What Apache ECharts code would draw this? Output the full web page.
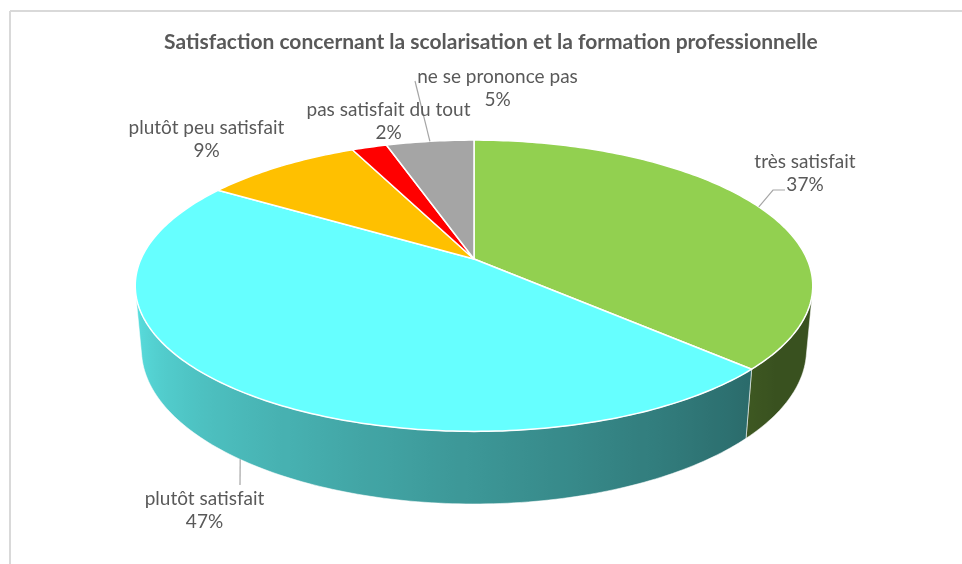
<!DOCTYPE html>
<html>
<head>
<meta charset="utf-8">
<script src="https://cdn.jsdelivr.net/npm/echarts@6/dist/echarts.min.js"></script>
<style>
  html, body { margin: 0; padding: 0; background: #ffffff; }
  #chart { width: 962px; height: 564px; }
</style>
</head>
<body>
<div id="chart"></div>
<script>
// Survey answers, clockwise from twelve o'clock
const categories = ['très satisfait', 'plutôt satisfait', 'plutôt peu satisfait', 'pas satisfait du tout', 'ne se prononce pas'];
const shares = [37, 47, 9, 2, 5];
const sliceColors = ['#92D050', '#66FFFF', '#FFC000', '#FF0000', '#A5A5A5'];
const chartTitle = 'Satisfaction concernant la scolarisation et la formation professionnelle';

// Camera used to project the tilted disc (unit radius) onto the screen
const view = {
  cx: 474, cy: 259, scale: 333,
  tilt: 25 * Math.PI / 180,
  dist: 4.934,
  thickness: 0.211
};
const sinT = Math.sin(view.tilt), cosT = Math.cos(view.tilt);

function project(theta, r, z) {
  const X = r * Math.sin(theta), Y = r * Math.cos(theta);
  const up = Y * sinT + z * cosT;
  const dep = Y * cosT - z * sinT;
  const f = view.dist / (view.dist + dep);
  return [view.cx + view.scale * X * f, view.cy - view.scale * up * f];
}

// The outer wall faces the camera where cos(theta) < -1/(dist*cos(tilt))
const wallLimit = Math.acos(-1 / (view.dist * cosT));
const wallFrom = wallLimit, wallTo = 2 * Math.PI - wallLimit;

// Side shading: darker on the right, brighter towards the left
function shade(theta) {
  const deg = theta * 180 / Math.PI;
  const t = Math.max(0, Math.min(1, (deg - 125) / (257 - 125)));
  return 0.39 + 0.48 * t;
}
function scaleColor(hex, k) {
  const n = parseInt(hex.slice(1), 16);
  const r = Math.round(((n >> 16) & 255) * k), g = Math.round(((n >> 8) & 255) * k), b = Math.round((n & 255) * k);
  return 'rgb(' + r + ',' + g + ',' + b + ')';
}

// Where each label block sits and how its leader line runs
const labelPlacement = [
  { x: 805, y: 173.5, edge: 'top', leader: [[773, 190], [785, 190]] },
  { x: 204.5, y: 510, edge: 'base', leader: [[240, 485]] },
  { x: 206.5, y: 139, edge: null, leader: null },
  { x: 388.5, y: 121.5, edge: null, leader: null },
  { x: 497.5, y: 88, edge: 'top', leader: [[415, 81]] }
];

const total = shares.reduce((a, b) => a + b, 0);

function renderSlice(params, api) {
  const idx = params.dataIndex;
  let before = 0;
  for (let i = 0; i < idx; i++) before += shares[i];
  const value = api.value(0);
  const a0 = before / total * 2 * Math.PI;
  const a1 = (before + value) / total * 2 * Math.PI;
  const children = [];
  const color = sliceColors[idx];

  // top face
  const steps = Math.max(2, Math.ceil((a1 - a0) / (Math.PI / 180)));
  const topPts = [[view.cx, view.cy]];
  for (let s = 0; s <= steps; s++) topPts.push(project(a0 + (a1 - a0) * s / steps, 1, 0));
  children.push({
    type: 'polygon', z2: 10,
    shape: { points: topPts },
    style: { fill: color, stroke: '#ffffff', lineWidth: 1.5, lineJoin: 'round' }
  });

  // visible part of the outer wall
  const w0 = Math.max(a0, wallFrom), w1 = Math.min(a1, wallTo);
  if (w1 > w0) {
    const n = Math.max(2, Math.ceil((w1 - w0) / (Math.PI / 180)));
    const upper = [], lower = [], stops = [];
    for (let s = 0; s <= n; s++) {
      const th = w0 + (w1 - w0) * s / n;
      upper.push(project(th, 1, 0));
      lower.push(project(th, 1, -view.thickness));
    }
    const xs = upper.concat(lower).map(p => p[0]);
    const xMin = Math.min.apply(null, xs), xMax = Math.max.apply(null, xs);
    for (let s = 0; s <= n; s++) {
      const th = w0 + (w1 - w0) * s / n;
      const px = (upper[s][0] + lower[s][0]) / 2;
      stops.push({ offset: Math.max(0, Math.min(1, (px - xMin) / Math.max(1, xMax - xMin))), color: scaleColor(color, shade(th)) });
    }
    stops.sort((p, q) => p.offset - q.offset);
    children.push({
      type: 'polygon', z2: 2,
      shape: { points: upper.concat(lower.reverse()) },
      style: {
        fill: { type: 'linear', x: xMin, y: 0, x2: xMax, y2: 0, global: true, colorStops: stops },
        stroke: 'rgba(255,255,255,0.55)', lineWidth: 1
      }
    });
  }

  // label and leader line
  const lp = labelPlacement[idx];
  const mid = (a0 + a1) / 2;
  if (lp.leader && lp.edge) {
    const anchor = project(mid, 1, lp.edge === 'top' ? 0 : -view.thickness);
    children.push({
      type: 'polyline', z2: 20,
      shape: { points: [anchor].concat(lp.leader) },
      style: { stroke: '#A6A6A6', lineWidth: 1.2, fill: null }
    });
  }
  children.push({
    type: 'text', z2: 21,
    x: lp.x, y: lp.y,
    style: {
      text: categories[idx] + '\n' + value + '%',
      align: 'center', verticalAlign: 'middle',
      fontFamily: 'Lato', fontSize: 19, lineHeight: 23,
      fill: '#595959'
    }
  });
  return { type: 'group', children: children };
}

const chart = echarts.init(document.getElementById('chart'), null, { renderer: 'canvas' });
chart.setOption({
  backgroundColor: '#ffffff',
  animation: false,
  title: {
    text: chartTitle,
    left: 159, top: 27,
    textStyle: { fontFamily: 'Lato', fontWeight: 'bold', fontSize: 21, color: '#595959' }
  },
  graphic: [
    { type: 'line', shape: { x1: 10, y1: 11, x2: 962, y2: 11 }, style: { stroke: '#D9D9D9', lineWidth: 2 } },
    { type: 'line', shape: { x1: 10, y1: 11, x2: 10, y2: 564 }, style: { stroke: '#D9D9D9', lineWidth: 2 } }
  ],
  series: [{
    type: 'custom',
    coordinateSystem: 'none',
    renderItem: renderSlice,
    data: shares.map((v, i) => ({ name: categories[i], value: [v] }))
  }]
});
</script>
</body>
</html>
